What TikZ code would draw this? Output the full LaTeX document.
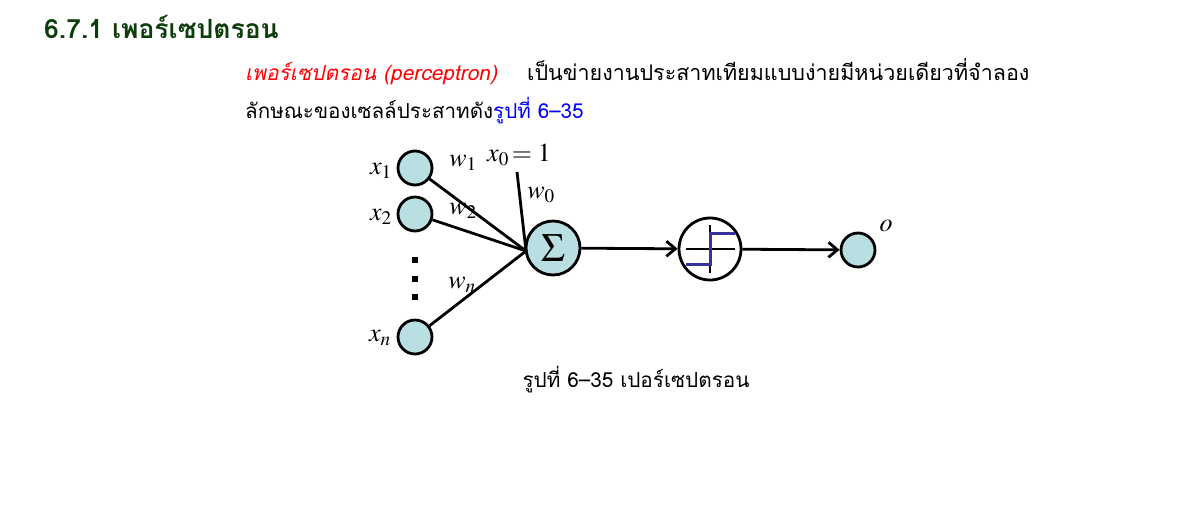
\documentclass[tikz,border=0pt]{standalone}
\usepackage{fontspec}
\usepackage{mathptmx}
\usetikzlibrary{arrows.meta}
\newfontfamily\thaifont[Script=Thai]{Loma}
\definecolor{headgreen}{RGB}{12,62,12}
\definecolor{nodefill}{RGB}{185,223,226}
\definecolor{stepblue}{RGB}{51,51,153}
\tikzset{
  unit/.style={circle,draw=black,fill=nodefill,line width=2.8pt,inner sep=0pt},
  conn/.style={line width=2.8pt},
  arr/.style={line width=2.8pt,-{Straight Barb[length=9pt,width=15pt,line width=2.8pt]}},
  lbl/.style={font=\fontsize{26}{26}\selectfont,inner sep=0pt}
}
\begin{document}
\begin{tikzpicture}[x=1pt,y=-1pt]
\useasboundingbox (0,0) rectangle (1180,528);
% heading
\node[anchor=base west,inner sep=0pt,text=headgreen,font=\thaifont\bfseries\fontsize{26.5}{26.5}\selectfont] (head) at (44,38) {6.7.1 เพอร์เซปตรอน};
% paragraph
\node[anchor=base west,inner sep=0pt,text=red,font=\thaifont\itshape\fontsize{20.9}{20.9}\selectfont] (p1) at (245,80) {เพอร์เซปตรอน (perceptron)};
\node[anchor=base west,inner sep=0pt,font=\thaifont\fontsize{21.5}{21.5}\selectfont] (p2) at (527,80) {เป็นข่ายงานประสาทเทียมแบบง่ายมีหน่วยเดียวที่จำลอง};
\node[anchor=base west,inner sep=0pt,font=\thaifont\fontsize{20.6}{20.6}\selectfont] (p3) at (245,118) {ลักษณะของเซลล์ประสาทดัง\textcolor{blue}{รูปที่ 6–35}};
% inputs
\node[unit,minimum size=34pt] (x1) at (415,168) {};
\node[unit,minimum size=34pt] (x2) at (415,214) {};
\node[unit,minimum size=34pt] (xn) at (415,337) {};
\foreach \yy [count=\i] in {260,279,297} \fill (412,\yy-3) rectangle (418,\yy+3);
\node[lbl] (lx1) at (381,171) {$x_1$};
\node[lbl] (lx2) at (381,217) {$x_2$};
\node[lbl] (lxn) at (380,338) {$x_n$};
% sum
\node[unit,minimum size=54pt] (sum) at (553,248) {\fontsize{40}{40}\selectfont$\Sigma$};
\coordinate (j) at (526,251);
\coordinate (b) at (517,172);
\draw[conn] (x1) -- (j);
\draw[conn] (x2) -- (j);
\draw[conn] (xn) -- (j);
\draw[conn] (b) -- (j);
\node[lbl] (w1) at (463,163) {$w_1$};
\node[lbl] (w2) at (463,211) {$w_2$};
\node[lbl] (wn) at (462,285) {$w_n$};
\node[lbl] (w0) at (541,195) {$w_0$};
\node[lbl] (x0) at (519,155) {$x_0\!= 1$};
% step
\node[circle,draw=black,line width=2.8pt,minimum size=62pt,inner sep=0pt] (step) at (710,249) {};
\draw[line width=1.2pt] (686,249) -- (735,249);
\draw[line width=1.2pt] (710,225) -- (710,273);
\draw[stepblue,line width=3pt] (686,264) -- (710,264) -- (710,233) -- (735,233);
\node[unit,minimum size=34pt] (out) at (858,250) {};
\node[lbl] (lo) at (886,226) {$o$};
\draw[arr] (sum) -- (step);
\draw[arr] (step) -- (out);
% caption
\node[inner sep=0pt,font=\thaifont\fontsize{20.7}{20.7}\selectfont] (cap) at (636,380) {รูปที่ 6–35 เปอร์เซปตรอน};
\end{tikzpicture}
\end{document}
